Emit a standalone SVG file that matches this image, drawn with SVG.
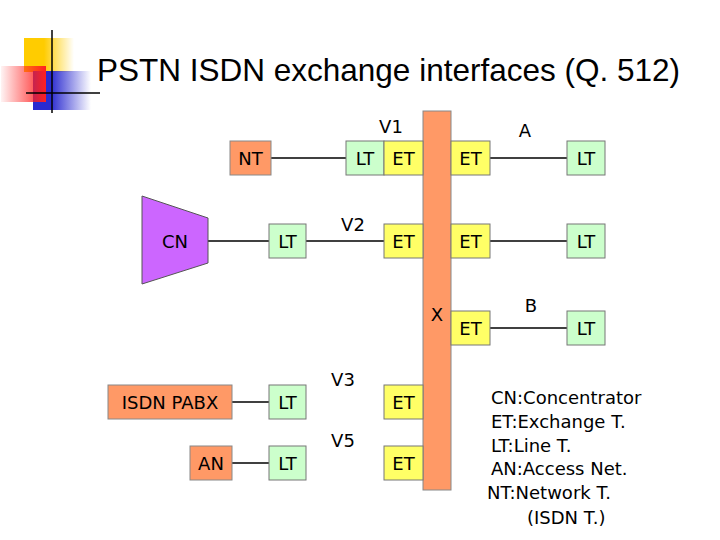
<svg xmlns="http://www.w3.org/2000/svg" width="720" height="540" viewBox="0 0 720 540">
<defs>
<linearGradient id="gy" x1="0" x2="1"><stop offset="0.4" stop-color="#ffcc00"/><stop offset="1" stop-color="#ffcc00" stop-opacity="0"/></linearGradient>
<linearGradient id="gr" x1="1" x2="0"><stop offset="0" stop-color="#ff2020"/><stop offset="1" stop-color="#ff2020" stop-opacity="0.05"/></linearGradient>
<linearGradient id="gb" x1="0" x2="1"><stop offset="0.3" stop-color="#2a2ad0"/><stop offset="1" stop-color="#2a2ad0" stop-opacity="0"/></linearGradient>
</defs>
<style>
text{font-family:"DejaVu Sans",sans-serif;font-size:18px;fill:#000}
.lt{fill:#ccffcc;stroke:#777;stroke-width:1}
.et{fill:#ffff66;stroke:#777;stroke-width:1}
.c{text-anchor:middle}
line{stroke:#000;stroke-width:1.5}
</style>
<rect width="720" height="540" fill="#fff"/>
<g id="logo">
<rect x="24" y="38" width="50" height="34" fill="url(#gy)"/>
<rect x="33" y="71" width="58" height="39" fill="url(#gb)"/>
<rect x="1" y="66" width="45" height="36" fill="url(#gr)"/>
<line x1="52" y1="30" x2="52" y2="113" stroke="#222" stroke-width="3"/>
<line x1="26" y1="93" x2="100" y2="93" stroke="#222" stroke-width="3"/>
</g>
<text x="97" y="81" style="font-family:'Liberation Sans',sans-serif;font-size:31.5px">PSTN ISDN exchange interfaces (Q. 512)</text>
<g id="connectors">
<line x1="271" y1="158" x2="346" y2="158"/>
<line x1="490" y1="158" x2="567" y2="158"/>
<line x1="208" y1="241" x2="269" y2="241"/>
<line x1="306" y1="241" x2="384" y2="241"/>
<line x1="490" y1="241" x2="567" y2="241"/>
<line x1="490" y1="328" x2="567" y2="328"/>
<line x1="232" y1="402" x2="269" y2="402"/>
<line x1="232" y1="463" x2="269" y2="463"/>
</g>
<g id="bar"><rect x="423" y="111" width="28" height="379" fill="#ff9966" stroke="#888"/></g>
<g id="NT"><rect x="230" y="141" width="41" height="34" fill="#ff9966" stroke="#888"/><text x="250.5" y="165" class="c">NT</text></g>
<g id="LT1"><rect class="lt" x="346" y="141" width="38" height="34"/><text x="365" y="165" class="c">LT</text></g>
<g id="ET1"><rect class="et" x="384" y="141" width="39" height="34"/><text x="403.5" y="165" class="c">ET</text></g>
<g id="ETA"><rect class="et" x="451" y="141" width="39" height="34"/><text x="470.5" y="165" class="c">ET</text></g>
<g id="LTA"><rect class="lt" x="567" y="141" width="38" height="34"/><text x="586" y="165" class="c">LT</text></g>
<g id="CN"><polygon points="142,196 208,218 208,263 142,284" fill="#cc66ff" stroke="#555"/><text x="175" y="248" class="c">CN</text></g>
<g id="LT2"><rect class="lt" x="269" y="224" width="37" height="34"/><text x="287.5" y="248" class="c">LT</text></g>
<g id="ET2"><rect class="et" x="384" y="224" width="39" height="34"/><text x="403.5" y="248" class="c">ET</text></g>
<g id="ET2r"><rect class="et" x="451" y="224" width="39" height="34"/><text x="470.5" y="248" class="c">ET</text></g>
<g id="LT2r"><rect class="lt" x="567" y="224" width="38" height="34"/><text x="586" y="248" class="c">LT</text></g>
<g id="ETB"><rect class="et" x="451" y="311" width="39" height="34"/><text x="470.5" y="335" class="c">ET</text></g>
<g id="LTB"><rect class="lt" x="567" y="311" width="38" height="34"/><text x="586" y="335" class="c">LT</text></g>
<g id="PABX"><rect x="108" y="385" width="124" height="34" fill="#ff9966" stroke="#888"/><text x="170" y="409" class="c">ISDN PABX</text></g>
<g id="LT3"><rect class="lt" x="269" y="385" width="37" height="34"/><text x="287.5" y="409" class="c">LT</text></g>
<g id="ET3"><rect class="et" x="384" y="385" width="39" height="34"/><text x="403.5" y="409" class="c">ET</text></g>
<g id="AN"><rect x="190" y="446" width="42" height="34" fill="#ff9966" stroke="#888"/><text x="211" y="470" class="c">AN</text></g>
<g id="LT5"><rect class="lt" x="269" y="446" width="37" height="34"/><text x="287.5" y="470" class="c">LT</text></g>
<g id="ET5"><rect class="et" x="384" y="446" width="39" height="34"/><text x="403.5" y="470" class="c">ET</text></g>
<g id="labels">
<text x="391" y="133" class="c">V1</text>
<text x="525" y="137" class="c">A</text>
<text x="353" y="231" class="c">V2</text>
<text x="437" y="321" class="c">X</text>
<text x="531" y="312" class="c">B</text>
<text x="343" y="386" class="c">V3</text>
<text x="343" y="447" class="c">V5</text>
</g>
<g id="legend">
<text x="491" y="404">CN:Concentrator</text>
<text x="491" y="428">ET:Exchange T.</text>
<text x="491" y="452">LT:Line T.</text>
<text x="491" y="475">AN:Access Net.</text>
<text x="487" y="499">NT:Network T.</text>
<text x="527" y="524">(ISDN T.)</text>
</g>
</svg>
